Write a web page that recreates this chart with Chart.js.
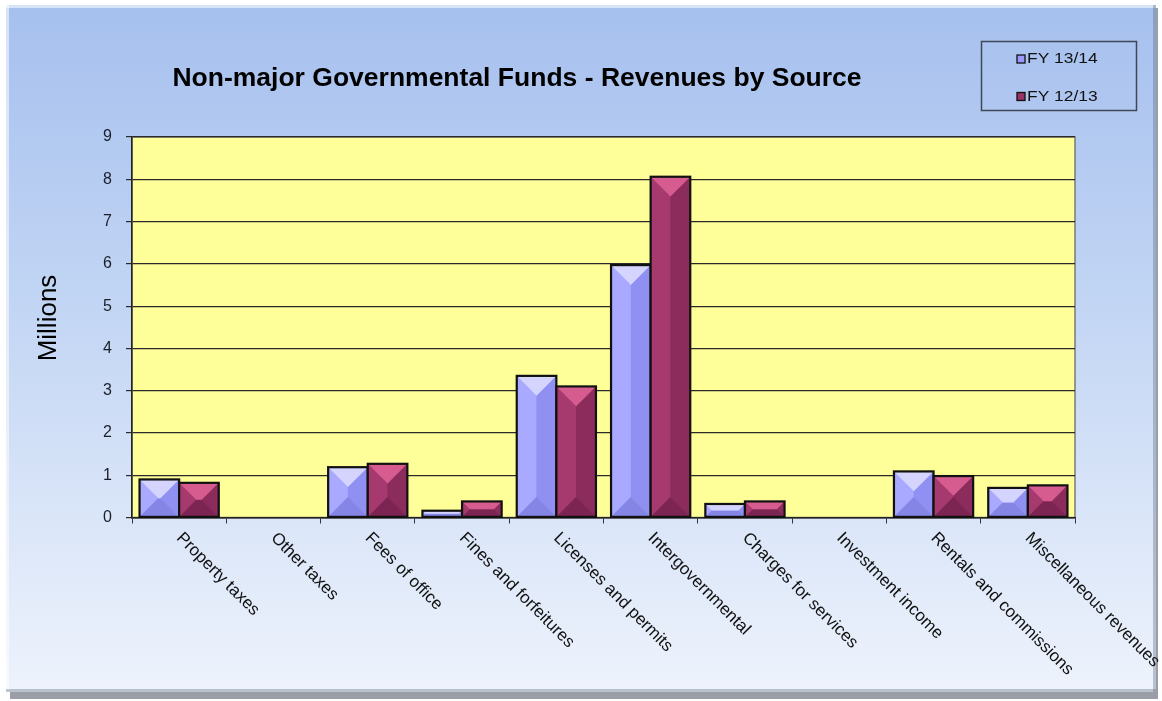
<!DOCTYPE html>
<html>
<head>
<meta charset="utf-8">
<script src="https://cdn.jsdelivr.net/npm/chart.js@4.4.1/dist/chart.umd.min.js"></script>
<style>
  html, body { margin: 0; padding: 0; background: #ffffff; }
  #wrap { width: 1162px; height: 701px; position: relative; }
  canvas { display: block; }
</style>
</head>
<body>
<div id="wrap"><canvas id="c" width="1162" height="701"></canvas></div>
<script>
// Revenue categories and amounts (millions of dollars)
const categories = [
  'Property taxes', 'Other taxes', 'Fees of office', 'Fines and forfeitures',
  'Licenses and permits', 'Intergovernmental', 'Charges for services',
  'Investment income', 'Rentals and commissions', 'Miscellaneous revenues'
];
const fy1314 = [0.90, 0, 1.19, 0.16, 3.35, 5.97, 0.32, 0, 1.09, 0.70];
const fy1213 = [0.82, 0, 1.27, 0.38, 3.10, 8.06, 0.38, 0, 0.98, 0.76];
const seriesNames = ['FY 13/14', 'FY 12/13'];
const yTicks = [0, 1, 2, 3, 4, 5, 6, 7, 8, 9];
const chartTitle = 'Non-major Governmental Funds - Revenues by Source';
const yTitle = 'Millions';

const FONT = '"Liberation Sans", Arial, sans-serif';

// Facet shades for the bevelled bars: top, left, right, bottom
const shades = [
  { base: '#9999ff', top: '#d4d4ff', left: '#a9a9ff', right: '#9090f2', bottom: '#8585e6' },
  { base: '#993366', top: '#d65c8f', left: '#a63a6f', right: '#8c2c5c', bottom: '#7c2552' }
];

// Frame, gradient background and yellow plot area
const backdrop = {
  id: 'backdrop',
  beforeDraw(chart) {
    const ctx = chart.ctx;
    const W = chart.width, H = chart.height;
    ctx.save();
    ctx.fillStyle = '#ffffff';
    ctx.fillRect(0, 0, W, H);
    // drop shadow of the frame
    ctx.fillStyle = '#9a9ea6';
    ctx.fillRect(10, 8, W - 14, H - 10);
    const g = ctx.createLinearGradient(0, 6, 0, H - 8);
    g.addColorStop(0, '#a6c0ee');
    g.addColorStop(0.45, '#c3d6f4');
    g.addColorStop(1, '#eef3fc');
    ctx.fillStyle = g;
    ctx.fillRect(6, 5, W - 12, H - 14);
    // bevel highlights
    ctx.fillStyle = 'rgba(255,255,255,0.55)';
    ctx.fillRect(6, 5, W - 12, 3);
    ctx.fillRect(6, 5, 3, H - 14);
    ctx.fillStyle = 'rgba(90,100,120,0.35)';
    ctx.fillRect(W - 9, 5, 3, H - 14);
    ctx.fillRect(6, H - 12, W - 12, 3);

    const a = chart.chartArea;
    ctx.fillStyle = '#ffff99';
    ctx.fillRect(a.left, a.top, a.right - a.left, a.bottom - a.top);
    ctx.strokeStyle = '#7a7a7a';
    ctx.lineWidth = 1.5;
    ctx.strokeRect(a.left, a.top, a.right - a.left, a.bottom - a.top);
    ctx.restore();
  }
};

// Bevelled (pyramid-frustum) facets painted over each bar
const bevel = {
  id: 'bevel',
  afterDatasetsDraw(chart) {
    const ctx = chart.ctx;
    chart.data.datasets.forEach((ds, di) => {
      const meta = chart.getDatasetMeta(di);
      const s = shades[di];
      meta.data.forEach(bar => {
        const L = bar.x - bar.width / 2, R = bar.x + bar.width / 2;
        const T = Math.min(bar.y, bar.base), B = Math.max(bar.y, bar.base);
        const h = B - T, w = R - L;
        if (h < 0.5) return;
        const d = Math.min(w / 2, h / 2);
        const il = L + d, ir = R - d, it = T + d, ib = B - d;
        const poly = (pts, col) => {
          ctx.beginPath();
          ctx.moveTo(pts[0][0], pts[0][1]);
          for (let i = 1; i < pts.length; i++) ctx.lineTo(pts[i][0], pts[i][1]);
          ctx.closePath();
          ctx.fillStyle = col;
          ctx.fill();
        };
        ctx.save();
        poly([[L, T], [il, it], [il, ib], [L, B]], s.left);
        poly([[R, T], [ir, it], [ir, ib], [R, B]], s.right);
        poly([[L, B], [il, ib], [ir, ib], [R, B]], s.bottom);
        poly([[L, T], [R, T], [ir, it], [il, it]], s.top);
        if (ir > il) {
          const cx = (il + ir) / 2;
          poly([[il, it], [cx, it], [cx, ib], [il, ib]], s.left);
          poly([[cx, it], [ir, it], [ir, ib], [cx, ib]], s.right);
        }
        ctx.strokeStyle = '#111111';
        ctx.lineWidth = 2.2;
        ctx.strokeRect(L, T, w, h);
        ctx.restore();
      });
    });
  }
};

// Title, legend box, axis title and slanted category labels
const annotations = {
  id: 'annotations',
  afterDraw(chart) {
    const ctx = chart.ctx;
    const a = chart.chartArea;
    const xs = chart.scales.x;
    ctx.save();
    // title
    ctx.fillStyle = '#000000';
    ctx.font = 'bold 25px ' + FONT;
    ctx.textAlign = 'center';
    ctx.textBaseline = 'middle';
    ctx.save();
    ctx.translate(517, 79);
    ctx.scale(1.06, 1);
    ctx.fillText(chartTitle, 0, 0);
    ctx.restore();

    // legend
    ctx.strokeStyle = '#3e4756';
    ctx.lineWidth = 1.5;
    ctx.strokeRect(981.5, 41.5, 155, 69);
    ctx.font = '15px ' + FONT;
    ctx.textAlign = 'left';
    seriesNames.forEach((name, i) => {
      const y = 59 + i * 37.5;
      ctx.fillStyle = shades[i].base;
      ctx.fillRect(1017, y - 4, 8, 8);
      ctx.strokeStyle = '#111111';
      ctx.lineWidth = 1.3;
      ctx.strokeRect(1017, y - 4, 8, 8);
      ctx.fillStyle = '#111111';
      ctx.save();
      ctx.translate(1027, y);
      ctx.scale(1.16, 1);
      ctx.fillText(name, 0, 0);
      ctx.restore();
    });

    // y-axis title
    ctx.font = '26px ' + FONT;
    ctx.textAlign = 'center';
    ctx.textBaseline = 'alphabetic';
    ctx.fillStyle = '#000000';
    ctx.translate(56, 318);
    ctx.rotate(-Math.PI / 2);
    ctx.fillText(yTitle, 0, 0);
    ctx.restore();

    // category labels, slanted downwards to the right
    ctx.save();
    ctx.font = '17px ' + FONT;
    ctx.fillStyle = '#111111';
    ctx.textAlign = 'left';
    ctx.textBaseline = 'middle';
    categories.forEach((lab, i) => {
      const x = xs.getPixelForTick(i);
      ctx.save();
      ctx.translate(x, a.bottom + 18);
      ctx.rotate(Math.PI / 4);
      ctx.fillText(lab, 0, 0);
      ctx.restore();
    });
    ctx.restore();
  }
};

new Chart(document.getElementById('c'), {
  type: 'bar',
  data: {
    labels: categories,
    datasets: [
      { label: seriesNames[0], data: fy1314, backgroundColor: shades[0].base, borderColor: '#111', borderWidth: 0 },
      { label: seriesNames[1], data: fy1213, backgroundColor: shades[1].base, borderColor: '#111', borderWidth: 0 }
    ]
  },
  options: {
    responsive: false,
    animation: false,
    devicePixelRatio: 1,
    layout: { padding: { left: 0, top: 137, right: 87, bottom: 0 } },
    datasets: { bar: { categoryPercentage: 0.84, barPercentage: 1.0 } },
    plugins: {
      legend: { display: false },
      title: { display: false },
      tooltip: { enabled: false }
    },
    scales: {
      x: {
        offset: true,
        grid: { drawOnChartArea: false, drawTicks: true, tickLength: 6, color: '#333', offset: true },
        border: { display: true, color: '#222', width: 1.5 },
        ticks: { display: false },
        afterFit(s) { s.height = 183.5; }
      },
      y: {
        min: 0, max: 9,
        afterBuildTicks(s) { s.ticks = yTicks.map(v => ({ value: v })); },
        grid: { color: '#2a2a2a', lineWidth: 1.2, tickLength: 6, drawTicks: true },
        border: { display: true, color: '#222', width: 1.5 },
        ticks: { font: { family: FONT, size: 16 }, color: '#1a1f2a', padding: 14 },
        afterFit(s) { s.width = 132; }
      }
    }
  },
  plugins: [backdrop, bevel, annotations]
});
</script>
</body>
</html>
